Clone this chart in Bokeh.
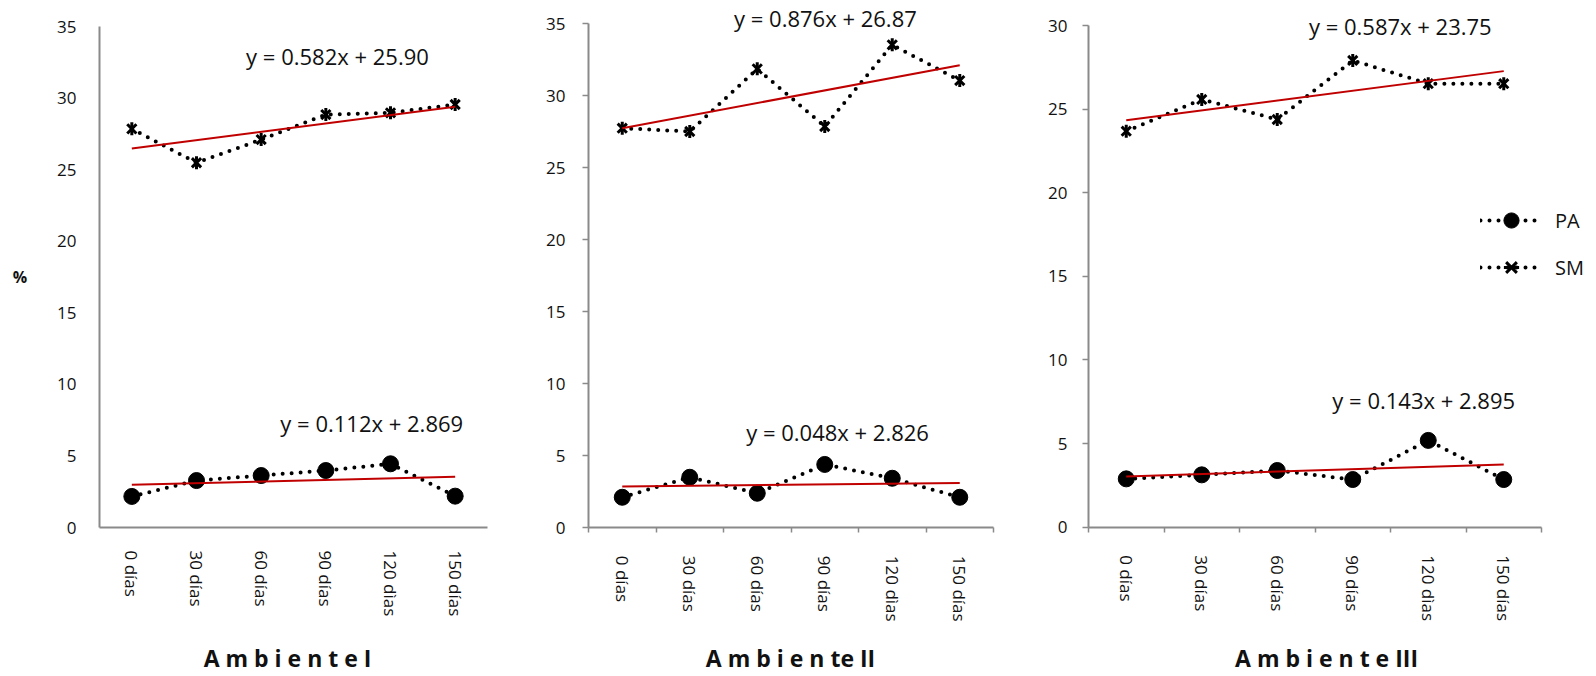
import math
from bokeh.plotting import figure
from bokeh.models import Range1d, FixedTicker, Label, Legend, LegendItem
from bokeh.layouts import row
from bokeh.embed import file_html
from bokeh.resources import INLINE

# ---------------- data ----------------
categories = ["0 días", "30 días", "60 días", "90 días", "120 dìas", "150 días"]

pa_amb1 = [2.17, 3.28, 3.63, 3.98, 4.45, 2.19]
sm_amb1 = [27.85, 25.48, 27.10, 28.85, 28.97, 29.55]
pa_amb2 = [2.12, 3.51, 2.40, 4.40, 3.44, 2.12]
sm_amb2 = [27.75, 27.52, 31.87, 27.87, 33.54, 31.06]
pa_amb3 = [2.89, 3.13, 3.39, 2.85, 5.19, 2.85]
sm_amb3 = [23.68, 25.58, 24.38, 27.91, 26.52, 26.52]

pa_slope = [0.112, 0.048, 0.143]
pa_intercept = [2.869, 2.826, 2.895]
sm_slope = [0.582, 0.876, 0.587]
sm_intercept = [25.90, 26.87, 23.75]

pa_eq_text = ["y = 0.112x + 2.869", "y = 0.048x + 2.826", "y = 0.143x + 2.895"]
sm_eq_text = ["y = 0.582x + 25.90", "y = 0.876x + 26.87", "y = 0.587x + 23.75"]

panel_titles = ["A m b i e n t e   I", "A m b i e n te II", "A m b i e n t e   III"]
y_ticks_35 = [0, 5, 10, 15, 20, 25, 30, 35]
y_ticks_30 = [0, 5, 10, 15, 20, 25, 30]
series_names = ["PA", "SM"]

# ---------------- layout / style (page pixels) ----------------
FONT = "Open Sans"
AXIS_COLOR = "#8A8A8A"
TREND_COLOR = "#C00000"
PAGE_TOP = 0
FIG_H = 675

layouts = [
    dict(left=0, w=540, x0=99, x1=487, yt=26, yb=527, ymax=35, ticks=y_ticks_35,
         has_ticks=False, ystand=23, sm_eq=(4.18, 32.97), pa_eq=(4.71, 7.31),
         title_cx=293),
    dict(left=540, w=500, x0=588, x1=993, yt=23.3, yb=527.3, ymax=35, ticks=y_ticks_35,
         has_ticks=True, ystand=17, sm_eq=(4.01, 35.37), pa_eq=(4.19, 6.67),
         title_cx=790),
    dict(left=1040, w=552, x0=1088, x1=1541, yt=25, yb=526.7, ymax=30, ticks=y_ticks_30,
         has_ticks=True, ystand=15, sm_eq=(4.63, 29.96), pa_eq=(4.94, 7.58),
         title_cx=1332),
]
LEGEND_LEFT = 1480      # page x where legend glyphs start
LEGEND_BOTTOM = 286     # page y of legend bottom
TITLE_MIDDLE = 657      # page y of the panel titles' centre

pa_all = [pa_amb1, pa_amb2, pa_amb3]
sm_all = [sm_amb1, sm_amb2, sm_amb3]

x_pos = list(range(1, len(categories) + 1))
n = len(categories)


def build(i):
    lay = layouts[i]
    pxu_x = (lay["x1"] - lay["x0"]) / n
    pxu_y = (lay["yb"] - lay["yt"]) / lay["ymax"]
    x_start = 0.5 - (lay["x0"] - lay["left"]) / pxu_x
    x_end = n + 0.5 + (lay["left"] + lay["w"] - lay["x1"]) / pxu_x
    y_start = -(PAGE_TOP + FIG_H - lay["yb"]) / pxu_y
    y_end = lay["ymax"] + (lay["yt"] - PAGE_TOP) / pxu_y

    p = figure(width=lay["w"], height=FIG_H,
               x_range=Range1d(x_start, x_end),
               y_range=Range1d(y_start, y_end),
               output_backend="svg", toolbar_location=None,
               min_border_left=0, min_border_right=0,
               min_border_top=0, min_border_bottom=0)
    p.outline_line_color = None
    p.xgrid.visible = False
    p.ygrid.visible = False
    p.background_fill_color = "white"
    p.border_fill_color = "white"

    # x axis
    xa = p.xaxis[0]
    xa.fixed_location = 0
    xa.bounds = (0.5, n + 0.5)
    xa.ticker = FixedTicker(ticks=x_pos,
                            minor_ticks=[k + 0.5 for k in range(0, n + 1)])
    xa.major_label_overrides = {x: c for x, c in zip(x_pos, categories)}
    xa.major_label_orientation = "vertical"
    xa.major_label_text_font = FONT
    xa.major_label_text_font_size = "17px"
    xa.major_label_text_color = "#111111"
    xa.major_label_standoff = 23
    xa.axis_line_color = AXIS_COLOR
    xa.axis_line_width = 2
    xa.major_tick_in = 0
    xa.major_tick_out = 0
    xa.minor_tick_in = 0
    xa.minor_tick_out = 5 if lay["has_ticks"] else 0
    xa.minor_tick_line_color = AXIS_COLOR if lay["has_ticks"] else None
    xa.minor_tick_line_width = 1.5

    # y axis
    ya = p.yaxis[0]
    ya.fixed_location = 0.5
    ya.bounds = (0, lay["ymax"])
    ya.ticker = FixedTicker(ticks=lay["ticks"])
    ya.major_label_text_font = FONT
    ya.major_label_text_font_size = "17px"
    ya.major_label_text_color = "#111111"
    ya.major_label_standoff = lay["ystand"]
    ya.axis_line_color = AXIS_COLOR
    ya.axis_line_width = 2
    ya.major_tick_in = 0
    ya.major_tick_out = 6 if lay["has_ticks"] else 0
    ya.major_tick_line_color = AXIS_COLOR if lay["has_ticks"] else None
    ya.major_tick_line_width = 1.5
    ya.minor_tick_in = 0
    ya.minor_tick_out = 0
    if i == 0:
        ya.axis_label = "%"
        ya.axis_label_orientation = "horizontal"
        ya.axis_label_text_font = FONT
        ya.axis_label_text_font_style = "bold"
        ya.axis_label_text_font_size = "16px"
        ya.axis_label_text_color = "#111111"
        ya.axis_label_standoff = 27

    pa = pa_all[i]
    sm = sm_all[i]

    # dotted series lines
    l_pa = p.line(x_pos, pa, line_color="black", line_width=4,
                  line_dash="0 9", line_cap="round")
    l_sm = p.line(x_pos, sm, line_color="black", line_width=4,
                  line_dash="0 9", line_cap="round")
    # markers
    m_pa = p.scatter(x_pos, pa, marker="circle", size=16,
                     fill_color="black", line_color="black")
    m_sm1 = p.scatter(x_pos, sm, marker="x", size=13,
                      line_color="black", line_width=3)
    m_sm2 = p.scatter(x_pos, sm, marker="dash", size=13, angle=math.pi / 2,
                      line_color="black", line_width=3)

    # linear trend lines from the equations
    xt = [x_pos[0], x_pos[-1]]
    p.line(xt, [pa_slope[i] * v + pa_intercept[i] for v in xt],
           line_color=TREND_COLOR, line_width=2)
    p.line(xt, [sm_slope[i] * v + sm_intercept[i] for v in xt],
           line_color=TREND_COLOR, line_width=2)

    # equations
    for txt, (ex, ey) in ((sm_eq_text[i], lay["sm_eq"]), (pa_eq_text[i], lay["pa_eq"])):
        p.add_layout(Label(x=ex, y=ey, text=txt, text_align="center",
                           text_baseline="middle", text_font=FONT,
                           text_font_size="22px", text_color="#111111"))

    # panel title (below the axis)
    tx = 0.5 + (lay["title_cx"] - lay["x0"]) / pxu_x
    ty = -(TITLE_MIDDLE - lay["yb"]) / pxu_y
    p.add_layout(Label(x=tx, y=ty, text=panel_titles[i], text_align="center",
                       text_baseline="middle", text_font=FONT,
                       text_font_style="bold", text_font_size="23px",
                       text_color="#111111"))

    if i == 2:
        legend = Legend(items=[
            LegendItem(label=series_names[0], renderers=[l_pa, m_pa]),
            LegendItem(label=series_names[1], renderers=[l_sm, m_sm1, m_sm2]),
        ], location=(LEGEND_LEFT - lay["left"], PAGE_TOP + FIG_H - LEGEND_BOTTOM))
        legend.glyph_width = 62
        legend.glyph_height = 38
        legend.label_height = 38
        legend.spacing = 9
        legend.padding = 0
        legend.margin = 0
        legend.label_standoff = 13
        legend.label_text_font = FONT
        legend.label_text_font_size = "20px"
        legend.label_text_color = "#111111"
        legend.border_line_color = None
        legend.background_fill_alpha = 0
        p.add_layout(legend)
    return p


plots = [build(i) for i in range(3)]
layout = row(*plots, spacing=0)

open("out.html", "w").write(file_html(layout, INLINE))
